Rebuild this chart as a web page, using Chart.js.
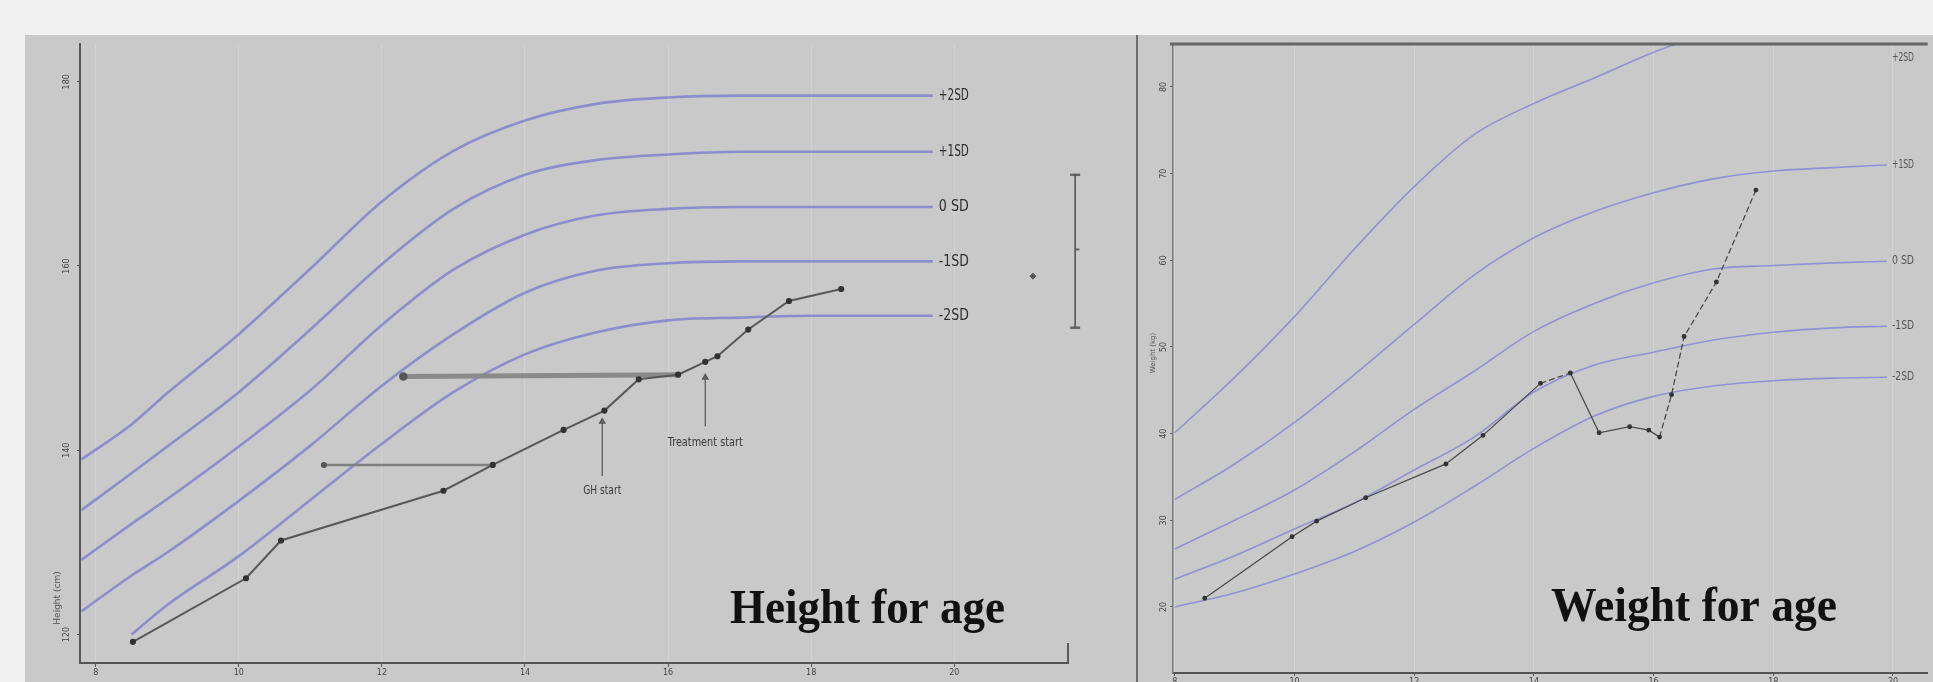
<!DOCTYPE html>
<html>
<head>
<meta charset="utf-8">
<script src="https://cdn.jsdelivr.net/npm/chart.js@4.4.1/dist/chart.umd.min.js"></script>
<style>
  html, body { margin: 0; padding: 0; background: #f0f0f0; width: 1933px; height: 682px; overflow: hidden; }
  #panel { position: absolute; left: 25px; top: 35px; width: 1908px; height: 647px; background: #c9c9c9; }
  #divider { position: absolute; left: 1136px; top: 35px; width: 2px; height: 647px; background: #6e6e6e; }
  #hfa { position: absolute; left: 25px; top: 35px; }
  #wfa { position: absolute; left: 1138px; top: 35px; }
</style>
</head>
<body>
<div id="panel"></div>
<div id="divider"></div>
<canvas id="hfa" width="1111" height="647"></canvas>
<canvas id="wfa" width="795" height="647"></canvas>
<script>
// ---------- Height for age ----------
const hfaTicksX = [8, 10, 12, 14, 16, 18, 20];
const hfaTicksY = [120, 140, 160, 180];
const hfaAges   = [7.8, 8.5, 9, 10, 11, 12, 13, 14, 15, 16, 17, 18, 19.7];
const hfaPlus2  = [139.0, 142.8, 146.2, 152.6, 159.7, 167.0, 172.5, 175.8, 177.6, 178.3, 178.5, 178.5, 178.5];
const hfaPlus1  = [133.5, 137.5, 140.4, 146.3, 153.1, 160.2, 166.2, 169.9, 171.5, 172.1, 172.4, 172.4, 172.4];
const hfaZero   = [128.1, 132.0, 134.7, 140.4, 146.5, 153.6, 159.6, 163.4, 165.5, 166.2, 166.4, 166.4, 166.4];
const hfaMinus1 = [122.5, 126.4, 128.9, 134.5, 140.5, 147.0, 152.6, 157.1, 159.5, 160.3, 160.5, 160.5, 160.5];
const hfaMinus2 = [null, 120.0, 123.2, 128.5, 134.6, 140.7, 146.3, 150.4, 152.8, 154.1, 154.4, 154.6, 154.6];
const sdNames   = ['+2SD', '+1SD', '0 SD', '-1SD', '-2SD'];

const childAge    = [8.52, 10.10, 10.59, 12.86, 13.55, 14.54, 15.11, 15.59, 16.14, 16.52, 16.69, 17.12, 17.69, 18.42];
const childHeight = [119.2, 126.1, 130.2, 135.6, 138.4, 142.2, 144.3, 147.7, 148.2, 149.6, 150.2, 153.1, 156.2, 157.5];
const boneAgeA = [11.19, 13.55], boneAgeAHeight = [138.4, 138.4];
const boneAgeB = [12.30, 16.14], boneAgeBHeight = [148.0, 148.2];
const ghStartAge = [15.08, 15.08], ghStartHeight = [137.2, 143.1];
const txStartAge = [16.52, 16.52], txStartHeight = [142.6, 147.9];
// target height range (outside the axis, right of the chart)
const targetAge = [21.69, 21.69], targetHeight = [153.3, 169.9];
const capAge = [21.62, 21.76];
const midAge = [21.69, 21.75], targetMid = 161.8;
const finalAge = [21.1], finalHeight = [158.9];

// ---------- Weight for age ----------
const wfaTicksX = [8, 10, 12, 14, 16, 18, 20];
const wfaTicksY = [20, 30, 40, 50, 60, 70, 80];
const wfaAges   = [8, 9, 10, 11, 12, 13, 14, 15, 16, 17, 18, 19, 19.9];
const wfaPlus2  = [40.1, 46.5, 53.5, 61.3, 68.5, 74.5, 78.1, 81.0, 84.0, 86.5, null, null, null];
const wfaPlus1  = [32.4, 36.5, 41.3, 46.8, 52.6, 58.3, 62.6, 65.6, 67.8, 69.4, 70.3, 70.7, 71.0];
const wfaZero   = [26.7, 30.0, 33.5, 37.9, 42.8, 47.2, 51.8, 55.0, 57.4, 59.0, 59.4, 59.7, 59.9];
const wfaMinus1 = [23.2, 25.9, 29.0, 32.0, 35.8, 39.6, 44.8, 47.9, 49.4, 50.8, 51.7, 52.2, 52.4];
const wfaMinus2 = [20.0, 21.6, 23.8, 26.4, 29.8, 33.9, 38.3, 42.0, 44.3, 45.5, 46.1, 46.4, 46.5];

const weighAge = [8.50, 9.96, 10.37, 11.19, 12.53, 13.15, 14.11, 14.61, 15.09, 15.60, 15.92, 16.10, 16.30, 16.51, 17.05, 17.71];
const weighKg  = [21.0, 28.1, 29.9, 32.6, 36.5, 39.8, 45.8, 47.0, 40.1, 40.8, 40.4, 39.6, 44.5, 51.2, 57.5, 68.1];

const pts = (xs, ys) => xs.map((x, i) => ({ x: x, y: Array.isArray(ys) ? ys[i] : ys }));

function squeeze(ctx, text, x, y, font, width, align) {
  ctx.font = font;
  const w = ctx.measureText(text).width;
  const k = width ? width / w : 1;
  ctx.save();
  ctx.translate(x, y);
  ctx.scale(k, 1);
  ctx.textAlign = align || 'left';
  ctx.fillText(text, 0, 0);
  ctx.restore();
}

function fixSize(size) {
  return (s) => {
    if (s.isHorizontal()) s.height = size; else s.width = size;
    s.paddingTop = s.paddingBottom = s.paddingLeft = s.paddingRight = 0;
  };
}
const setTicks = (values) => (s) => { s.ticks = values.map(v => ({ value: v })); };

const decor = {
  id: 'decor',
  afterDraw(chart, args, o) {
    const { ctx, chartArea: a } = chart;
    const xs = chart.scales.x, ys = chart.scales.y;
    ctx.save();
    ctx.textBaseline = 'middle';
    ctx.fillStyle = o.labelColor;
    chart.data.datasets.forEach(ds => {
      if (!ds.endLabel) return;
      const good = ds.data.filter(p => p.y != null);
      const last = good[good.length - 1];
      const px = xs.getPixelForValue(o.labelAge) + o.labelGap;
      const py = ys.getPixelForValue(Math.min(last.y, ys.max - o.labelTop));
      squeeze(ctx, ds.endLabel, px, py, o.labelFont, o.labelWidth, 'left');
    });
    ctx.fillStyle = '#3a3a3a';
    (o.notes || []).forEach(n => {
      squeeze(ctx, n.text, xs.getPixelForValue(n.x), ys.getPixelForValue(n.y), n.font, n.width, 'center');
    });
    if (o.axisTitle) {
      ctx.save();
      ctx.translate(o.axisTitle.px, o.axisTitle.py);
      ctx.rotate(-Math.PI / 2);
      ctx.fillStyle = '#555';
      ctx.font = o.axisTitle.font;
      ctx.textAlign = 'center';
      ctx.fillText(o.axisTitle.text, 0, 0);
      ctx.restore();
    }
    ctx.strokeStyle = '#5a5a5a';
    if (o.endTick) {
      ctx.lineWidth = 2;
      ctx.beginPath();
      ctx.moveTo(a.right, a.bottom);
      ctx.lineTo(a.right, a.bottom - o.endTick);
      ctx.stroke();
    }
    if (o.topLine) {
      ctx.lineWidth = 3;
      ctx.strokeStyle = '#666';
      ctx.beginPath();
      ctx.moveTo(a.left - 3, a.top);
      ctx.lineTo(a.right, a.top);
      ctx.stroke();
    }
    ctx.fillStyle = '#111';
    ctx.textBaseline = 'alphabetic';
    squeeze(ctx, o.title.text, o.title.px, o.title.py, o.title.font, o.title.width, 'left');
    ctx.restore();
  }
};

const tickFont = { family: 'DejaVu Sans', size: 8 };

function sdSet(data, name, color, width) {
  return {
    data: data, endLabel: name, borderColor: color, borderWidth: width,
    pointRadius: 0, cubicInterpolationMode: 'monotone', fill: false
  };
}
function stroke(data, color, width) {
  return { data: data, borderColor: color, borderWidth: width, pointRadius: 0, clip: false };
}

// ---- left chart ----
const leftSd = [hfaPlus2, hfaPlus1, hfaZero, hfaMinus1, hfaMinus2];
const leftSets = [
  { data: pts(childAge, childHeight), borderColor: '#585858', borderWidth: 2,
    pointRadius: 2.1, pointBackgroundColor: '#333', pointBorderColor: '#333' },
  { data: pts(boneAgeA, boneAgeAHeight), borderColor: '#808080', borderWidth: 2.5,
    pointRadius: [1.8, 0], pointBackgroundColor: '#555', pointBorderColor: '#555' },
  { data: pts(boneAgeB, boneAgeBHeight), borderColor: '#8a8a8a', borderWidth: 5,
    pointRadius: [1.8, 0], pointBackgroundColor: '#555', pointBorderColor: '#555' },
  { data: pts(ghStartAge, ghStartHeight), borderColor: '#555', borderWidth: 1.2,
    pointStyle: 'triangle', pointRadius: [0, 3.2], pointBackgroundColor: '#666', pointBorderColor: '#555' },
  { data: pts(txStartAge, txStartHeight), borderColor: '#555', borderWidth: 1.2,
    pointStyle: 'triangle', pointRadius: [0, 3.2], pointBackgroundColor: '#666', pointBorderColor: '#555' },
  stroke(pts(targetAge, targetHeight), '#555', 1.6),
  stroke(pts(capAge, targetHeight[0]), '#666', 2.5),
  stroke(pts(capAge, targetHeight[1]), '#666', 2.5),
  stroke(pts(midAge, targetMid), '#666', 2),
  { data: pts(finalAge, finalHeight), showLine: false,
    pointStyle: 'rectRot', pointRadius: 3, pointBackgroundColor: '#555', pointBorderColor: '#555' }
].concat(leftSd.map((v, i) => sdSet(pts(hfaAges, v), sdNames[i], 'rgba(126,126,208,0.8)', 2.6)));

new Chart(document.getElementById('hfa'), {
  type: 'line',
  data: { datasets: leftSets },
  options: {
    responsive: false, animation: false, events: [],
    layout: { padding: { left: 0, top: 0, right: 68, bottom: 0 } },
    plugins: {
      legend: { display: false }, tooltip: { enabled: false },
      decor: {
        labelAge: 19.7, labelGap: 6, labelTop: 0, labelFont: '16px "DejaVu Sans Condensed"',
        labelWidth: 30, labelColor: '#2e2e2e',
        notes: [
          { text: 'GH start', x: 15.08, y: 135.6, font: '13px "DejaVu Sans Condensed"', width: 38 },
          { text: 'Treatment start', x: 16.52, y: 140.8, font: '13px "DejaVu Sans Condensed"', width: 75 }
        ],
        axisTitle: { text: 'Height (cm)', px: 33, py: 563, font: '9px "DejaVu Sans"' },
        endTick: 20,
        title: { text: 'Height for age', px: 705, py: 588, font: 'bold 48px "Liberation Serif"', width: 275 }
      }
    },
    scales: {
      x: {
        type: 'linear', min: 7.78, max: 21.59,
        afterBuildTicks: setTicks(hfaTicksX), afterFit: fixSize(19),
        grid: { color: 'rgba(214,214,214,0.7)', tickColor: '#555', tickLength: 4 },
        border: { color: '#555', width: 2 },
        ticks: { font: tickFont, color: '#444', padding: 1, maxRotation: 0 }
      },
      y: {
        type: 'linear', min: 116.9, max: 184.1,
        afterBuildTicks: setTicks(hfaTicksY), afterFit: fixSize(55),
        grid: { color: 'rgba(0,0,0,0)', tickColor: '#555', tickLength: 3 },
        border: { color: '#555', width: 2 },
        ticks: { font: tickFont, color: '#444', padding: 2, minRotation: 90, maxRotation: 90, crossAlign: 'center' }
      }
    }
  },
  plugins: [decor]
});

// ---- right chart ----
const rightSd = [wfaPlus2, wfaPlus1, wfaZero, wfaMinus1, wfaMinus2];
const rightSets = [
  { data: pts(weighAge, weighKg), borderColor: '#4a4a4a', borderWidth: 1.3,
    pointRadius: 1.8, pointBackgroundColor: '#333', pointBorderColor: '#333',
    segment: { borderDash: c => (c.p0DataIndex === 6 || c.p0DataIndex >= 11) ? [6, 3] : undefined } }
].concat(rightSd.map((v, i) => sdSet(pts(wfaAges, v), sdNames[i], 'rgba(126,126,218,0.75)', 1.6)));

new Chart(document.getElementById('wfa'), {
  type: 'line',
  data: { datasets: rightSets },
  options: {
    responsive: false, animation: false, events: [],
    layout: { padding: { left: 0, top: 9, right: 0, bottom: 0 } },
    plugins: {
      legend: { display: false }, tooltip: { enabled: false },
      decor: {
        labelAge: 19.9, labelGap: 5, labelTop: 1.6, labelFont: '12px "DejaVu Sans Condensed"',
        labelWidth: 22, labelColor: '#555',
        axisTitle: { text: 'Weight (kg)', px: 15, py: 318, font: '7px "DejaVu Sans"' },
        topLine: true,
        title: { text: 'Weight for age', px: 413, py: 586, font: 'bold 48px "Liberation Serif"', width: 286 }
      }
    },
    scales: {
      x: {
        type: 'linear', min: 7.97, max: 20.58,
        afterBuildTicks: setTicks(wfaTicksX), afterFit: fixSize(9),
        grid: { color: 'rgba(214,214,214,0.8)', tickColor: '#555', tickLength: 3 },
        border: { color: '#555', width: 2 },
        ticks: { font: tickFont, color: '#444', padding: 1, maxRotation: 0 }
      },
      y: {
        type: 'linear', min: 12.38, max: 84.96,
        afterBuildTicks: setTicks(wfaTicksY), afterFit: fixSize(35),
        grid: { color: 'rgba(0,0,0,0)', tickColor: '#666', tickLength: 3 },
        border: { color: '#7a7a7a', width: 1.5 },
        ticks: { font: tickFont, color: '#444', padding: 1, minRotation: 90, maxRotation: 90, crossAlign: 'center' }
      }
    }
  },
  plugins: [decor]
});
</script>
</body>
</html>
